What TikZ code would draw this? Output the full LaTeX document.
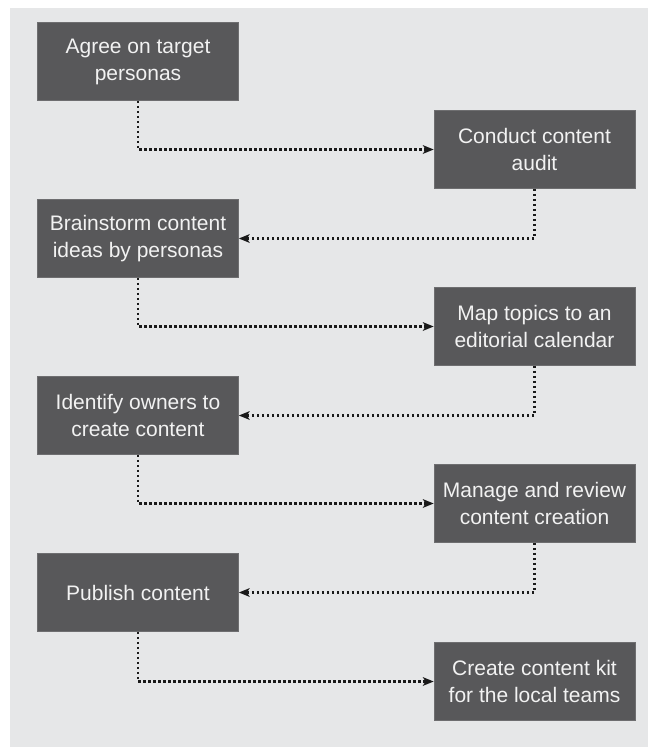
\documentclass[tikz,border=0pt]{standalone}
\usepackage{fontspec}
\setmainfont{Liberation Sans}
\usetikzlibrary{arrows.meta}
\definecolor{bgpanel}{HTML}{E6E7E8}
\definecolor{boxfill}{HTML}{58585A}
\definecolor{boxedge}{HTML}{6E6E70}
\definecolor{boxtext}{HTML}{F2F2F2}
\definecolor{dotcol}{HTML}{1A1A1A}
\tikzset{
  stepbox/.style={rectangle, fill=boxfill, draw=boxedge, line width=0.8pt,
    minimum width=201pt, minimum height=78pt, inner sep=0pt,
    align=center, text=boxtext, font=\fontsize{21}{27}\selectfont},
  flow/.style={draw=dotcol, line width=2.5pt, dash pattern=on 2.4pt off 2.6pt,
    -{Stealth[length=11pt,width=9pt,inset=3pt,line width=0pt]}}
}
\begin{document}
\begin{tikzpicture}[x=1pt,y=-1pt]
\useasboundingbox (0,0) rectangle (648,747);
\fill[white] (0,0) rectangle (648,747);
\fill[bgpanel] (10,8) rectangle (648,747);
\node[stepbox] (b1) at (138,61.5) {Agree on target\\personas};
\node[stepbox] (b2) at (534.5,149.5) {Conduct content\\audit};
\node[stepbox] (b3) at (138,238.5) {Brainstorm content\\ideas by personas};
\node[stepbox] (b4) at (534.5,326.5) {Map topics to an\\editorial calendar};
\node[stepbox] (b5) at (138,415.5) {Identify owners to\\create content};
\node[stepbox] (b6) at (534.5,503.5) {Manage and review\\content creation};
\node[stepbox] (b7) at (138,592.5) {Publish content};
\node[stepbox] (b8) at (534.5,681.5) {Create content kit\\for the local teams};
\draw[flow] (b1.south) |- (b2.west);
\draw[flow] (b2.south) |- (b3.east);
\draw[flow] (b3.south) |- (b4.west);
\draw[flow] (b4.south) |- (b5.east);
\draw[flow] (b5.south) |- (b6.west);
\draw[flow] (b6.south) |- (b7.east);
\draw[flow] (b7.south) |- (b8.west);
\end{tikzpicture}
\end{document}
